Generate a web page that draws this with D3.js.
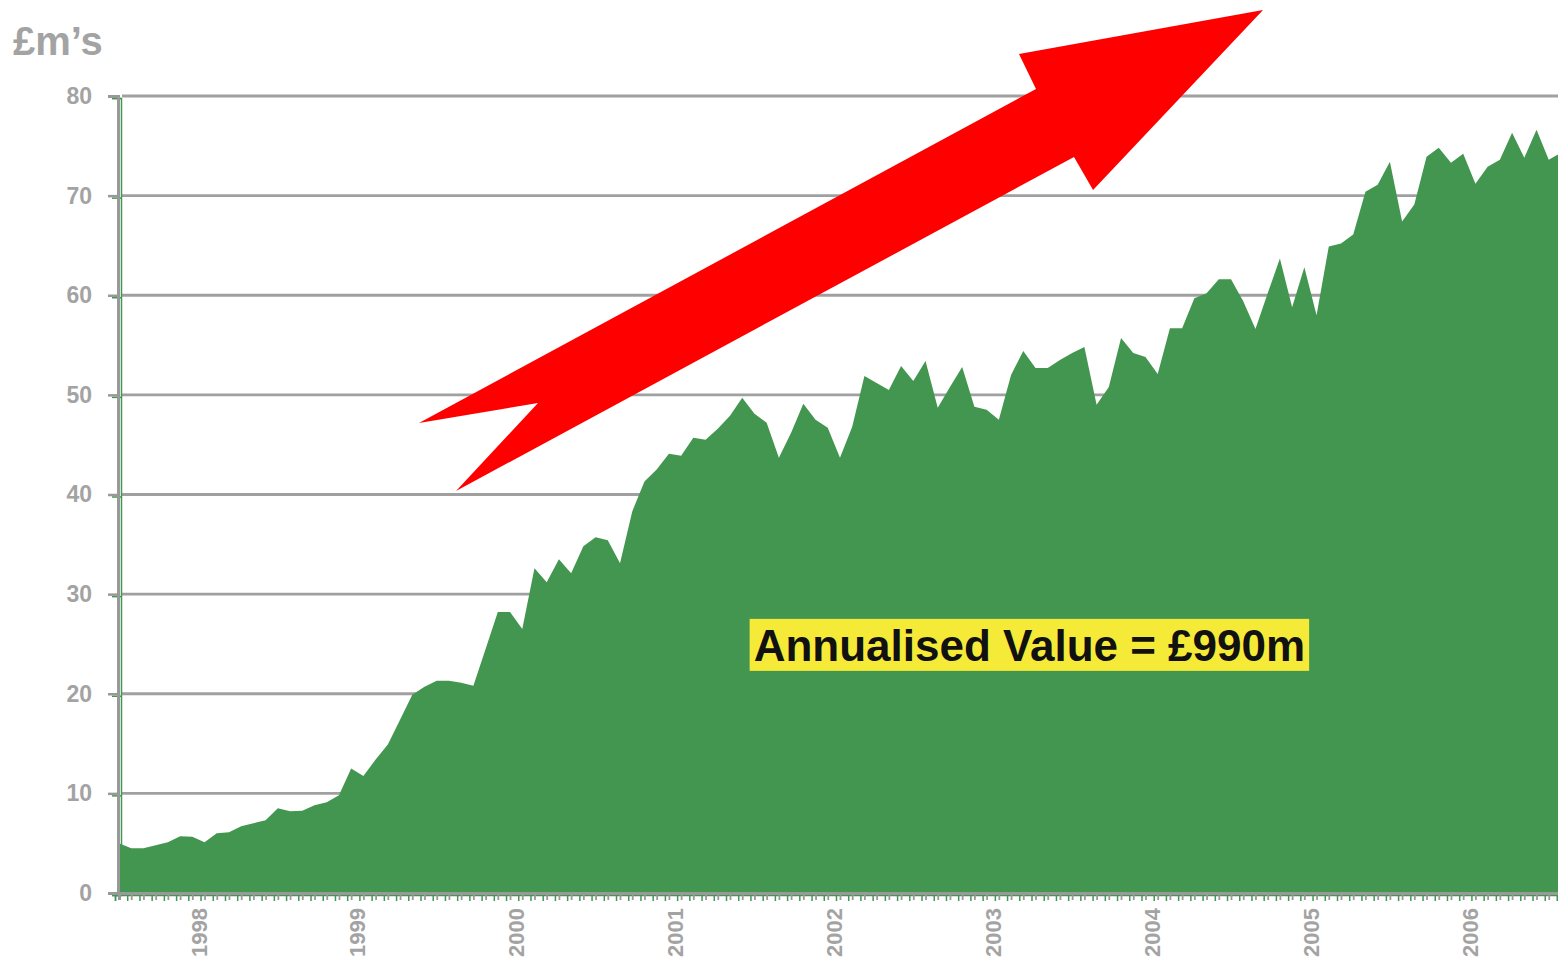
<!DOCTYPE html>
<html>
<head>
<meta charset="utf-8">
<script src="https://cdn.jsdelivr.net/npm/d3@7"></script>
<style>
  html, body { margin: 0; padding: 0; background: #fff; }
  svg { display: block; font-family: "Liberation Sans", Arial, sans-serif; }
</style>
</head>
<body>
<svg id="chart" width="1558" height="962"></svg>
<script>
// four-weekly value in £m, 13 periods a year from 1998 P1
const periodsPerYear = 13;
const values = [
  5.0, 4.5, 4.5, 4.8, 5.1, 5.7, 5.65, 5.1, 6.0, 6.1, 6.7, 7.0, 7.3,
  8.5, 8.2, 8.25, 8.8, 9.1, 9.8, 12.5, 11.75, 13.4, 14.9, 17.4, 19.9, 20.7,
  21.3, 21.3, 21.1, 20.8, 24.5, 28.2, 28.2, 26.5, 32.6, 31.2, 33.5, 32.1, 34.8,
  35.7, 35.4, 33.1, 38.3, 41.3, 42.5, 44.1, 43.9, 45.7, 45.5, 46.6, 47.9, 49.7,
  48.1, 47.2, 43.7, 46.2, 49.1, 47.5, 46.7, 43.7, 46.8, 51.9, 51.2, 50.5, 52.9,
  51.4, 53.4, 48.7, 50.8, 52.8, 48.8, 48.5, 47.5, 52.0, 54.4, 52.7, 52.7, 53.5,
  54.2, 54.8, 49.0, 50.8, 55.7, 54.2, 53.8, 52.1, 56.7, 56.7, 59.7, 60.2, 61.6,
  61.6, 59.4, 56.6, 60.2, 63.7, 58.8, 62.8, 58.0, 64.9, 65.2, 66.1, 70.4, 71.1,
  73.4, 67.4, 69.1, 73.9, 74.8, 73.3, 74.2, 71.2, 72.9, 73.6, 76.3, 73.8, 76.6,
  73.6, 74.3
];
const yearLabels = ['1998', '1999', '2000', '2001', '2002', '2003', '2004', '2005', '2006'];
const yTicks = [0, 10, 20, 30, 40, 50, 60, 70, 80];

// arrow outline in chart units [period index, £m]
const arrowPoints = [
  [24.55, 47.18], [75.04, 80.70], [73.65, 84.22], [93.62, 88.63],
  [79.71, 70.56], [78.15, 73.88], [27.58, 40.35], [34.29, 49.18]
];
const noteText = 'Annualised Value = £990m';
const notePos = [74.5, 23.3];

const width = 1558;
const height = 962;
const left = 119;
const step = 12.22;
const grey = '#a3a3a3';
const green = '#43964f';

const svg = d3.select('#chart');
svg.append('rect').attr('width', width).attr('height', height).attr('fill', '#fff');

const x = d3.scaleLinear()
    .domain([0, values.length - 1])
    .range([left, left + (values.length - 1) * step]);
const y = d3.scaleLinear().domain([0, 80]).range([893, 96]);

// gridlines
svg.append('g')
    .selectAll('line')
    .data(yTicks.filter(d => d > 0))
    .enter().append('line')
    .attr('x1', left + 3)
    .attr('x2', width)
    .attr('y1', d => y(d))
    .attr('y2', d => y(d))
    .attr('stroke', '#a0a0a0')
    .attr('stroke-width', 2.8);

// area
const area = d3.area()
    .x((d, i) => x(i))
    .y0(y(0))
    .y1(d => y(d));

svg.append('path')
    .datum(values)
    .attr('d', area)
    .attr('fill', green);

// secondary green axes sit just under the grey ones
const gy2 = svg.append('g')
    .attr('transform', `translate(${left + 2},2)`)
    .call(d3.axisLeft(y).tickValues(yTicks).tickSize(9).tickFormat(''));
gy2.selectAll('path, line').attr('stroke', green).attr('stroke-width', 1.5);

const gx2 = svg.append('g')
    .attr('transform', `translate(-4,${y(0) + 2})`)
    .call(d3.axisBottom(x).tickValues(d3.range(values.length)).tickSize(6).tickFormat(''));
gx2.selectAll('path, line').attr('stroke', green).attr('stroke-width', 1.5);

// y axis
const gy = svg.append('g')
    .attr('transform', `translate(${left - 1},0)`)
    .call(d3.axisLeft(y).tickValues(yTicks).tickSize(10).tickPadding(16).tickFormat(d3.format('d')));
gy.select('.domain').attr('stroke', '#999').attr('stroke-width', 3);
gy.selectAll('.tick line').attr('stroke', '#999').attr('stroke-width', 2.5);
gy.selectAll('.tick text')
    .attr('fill', grey)
    .style('font-size', '23px')
    .style('font-weight', 'bold')
    .style('font-family', '"Liberation Sans", Arial, sans-serif');

// x axis, one tick per period
const gx = svg.append('g')
    .attr('transform', `translate(0,${y(0)})`)
    .call(d3.axisBottom(x).tickValues(d3.range(values.length)).tickSize(7).tickFormat(''));
gx.select('.domain').attr('stroke', '#999').attr('stroke-width', 3);
gx.selectAll('.tick line').attr('stroke', '#999').attr('stroke-width', 1.8);

// year labels in the middle of each year's periods
const gyears = svg.append('g')
    .attr('transform', `translate(0,${y(0)})`)
    .call(d3.axisBottom(x)
        .tickValues(yearLabels.map((_, k) => k * periodsPerYear + 6.5))
        .tickSize(0)
        .tickFormat((d, k) => yearLabels[k]));
gyears.select('.domain').remove();
gyears.selectAll('.tick text')
    .attr('transform', 'rotate(-90)')
    .attr('text-anchor', 'end')
    .attr('x', -15)
    .attr('y', 0)
    .attr('dy', '0.35em')
    .attr('fill', grey)
    .style('font-size', '22px')
    .style('font-weight', 'bold')
    .style('font-family', '"Liberation Sans", Arial, sans-serif');

// unit title
svg.append('text')
    .attr('x', 13)
    .attr('y', 55)
    .attr('fill', grey)
    .style('font-size', '40px')
    .style('font-weight', 'bold')
    .text('£m’s');

// red arrow
svg.append('path')
    .datum(arrowPoints)
    .attr('d', d3.line().x(d => x(d[0])).y(d => y(d[1])).curve(d3.curveLinearClosed))
    .attr('fill', '#ff0000');

// annotation box
const note = svg.append('g');
const noteLabel = note.append('text')
    .attr('x', x(notePos[0]))
    .attr('y', y(notePos[1]))
    .attr('text-anchor', 'middle')
    .attr('fill', '#111')
    .style('font-size', '44px')
    .style('font-weight', 'bold')
    .text(noteText);
const bb = noteLabel.node().getBBox();
note.insert('rect', 'text')
    .attr('x', bb.x - 4)
    .attr('y', bb.y - 2)
    .attr('width', bb.width + 8)
    .attr('height', bb.height + 3)
    .attr('fill', '#f6ea38');
</script>
</body>
</html>
